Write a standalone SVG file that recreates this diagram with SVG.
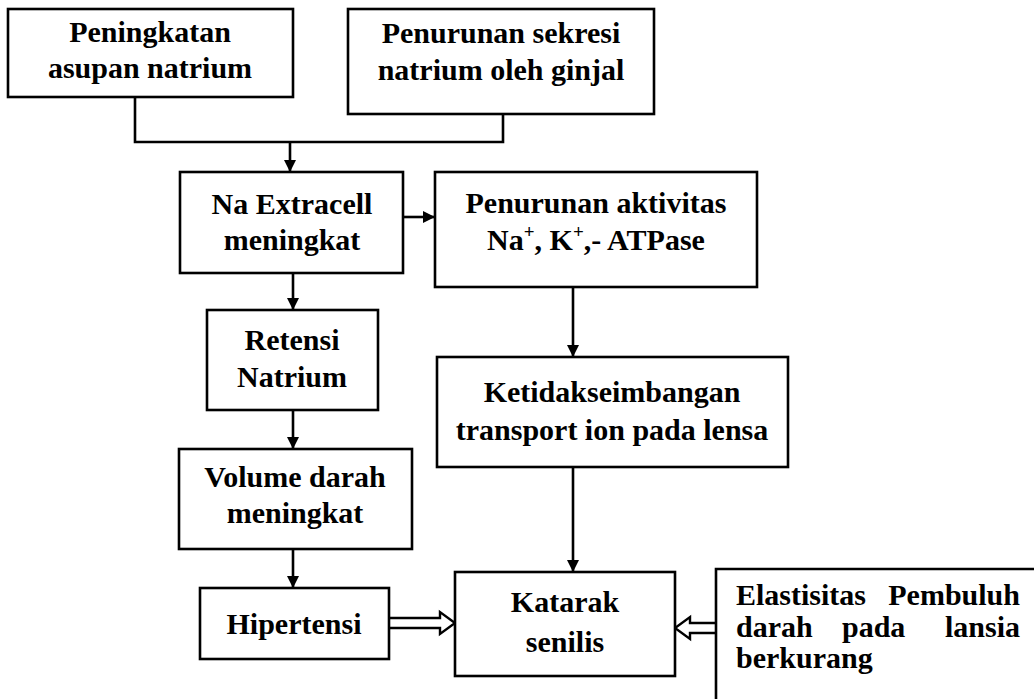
<svg xmlns="http://www.w3.org/2000/svg" width="1034" height="699" viewBox="0 0 1034 699">
<defs>
<style>
.box{fill:#fff;stroke:#000;stroke-width:2.6}
.t{font-family:"Liberation Serif","Times New Roman",serif;font-weight:bold;font-size:30px;fill:#000;text-anchor:middle}
.tl{font-family:"Liberation Serif","Times New Roman",serif;font-weight:bold;font-size:30px;fill:#000}
.ln{fill:none;stroke:#000;stroke-width:2.6}
.hol{fill:#fff;stroke:#000;stroke-width:2.4;stroke-linejoin:miter}
</style>
<marker id="ah" viewBox="0 0 12 12" refX="12" refY="6" markerWidth="12" markerHeight="12" markerUnits="userSpaceOnUse" orient="auto">
<path d="M0,0 L12,6 L0,12 Z" fill="#000"/>
</marker>
</defs>
<rect width="1034" height="699" fill="#fff"/>

<g id="connectors">
<path class="ln" d="M135,97 V142 H503 V114"/>
<line class="ln" x1="290" y1="142" x2="290" y2="172" marker-end="url(#ah)"/>
<line class="ln" x1="403" y1="217" x2="435" y2="217" marker-end="url(#ah)"/>
<line class="ln" x1="573" y1="287" x2="573" y2="357" marker-end="url(#ah)"/>
<line class="ln" x1="573" y1="467" x2="573" y2="572" marker-end="url(#ah)"/>
<line class="ln" x1="293" y1="273" x2="293" y2="310" marker-end="url(#ah)"/>
<line class="ln" x1="293" y1="410" x2="293" y2="449" marker-end="url(#ah)"/>
<line class="ln" x1="293" y1="549" x2="293" y2="588" marker-end="url(#ah)"/>
<path class="hol" d="M389,618 H440 V612 L455,623 L440,634 V628 H389"/>
<path class="hol" d="M716,623 H690 V617 L675,628 L690,639 V633 H716"/>
</g>

<g id="n1">
<rect class="box" x="8" y="9" width="285" height="88"/>
<text class="t" x="150" y="42">Peningkatan</text>
<text class="t" x="150" y="78">asupan natrium</text>
</g>
<g id="n2">
<rect class="box" x="348" y="9" width="306" height="105"/>
<text class="t" x="501" y="43">Penurunan sekresi</text>
<text class="t" x="501" y="80">natrium oleh ginjal</text>
</g>
<g id="n3">
<rect class="box" x="180" y="172" width="223" height="101"/>
<text class="t" x="292" y="214">Na Extracell</text>
<text class="t" x="292" y="250">meningkat</text>
</g>
<g id="n4">
<rect class="box" x="435" y="172" width="322" height="115"/>
<text class="t" x="596" y="213">Penurunan aktivitas</text>
<text class="t" x="596" y="250">Na<tspan font-size="19" dy="-12">+</tspan><tspan dy="12">, K</tspan><tspan font-size="19" dy="-12">+</tspan><tspan dy="12">,- ATPase</tspan></text>
</g>
<g id="n5">
<rect class="box" x="437" y="357" width="351" height="110"/>
<text class="t" x="612" y="402">Ketidakseimbangan</text>
<text class="t" x="612" y="440">transport ion pada lensa</text>
</g>
<g id="n6">
<rect class="box" x="207" y="310" width="171" height="100"/>
<text class="t" x="292" y="350">Retensi</text>
<text class="t" x="292" y="387">Natrium</text>
</g>
<g id="n7">
<rect class="box" x="179" y="449" width="233" height="100"/>
<text class="t" x="295" y="487">Volume darah</text>
<text class="t" x="295" y="523">meningkat</text>
</g>
<g id="n8">
<rect class="box" x="200" y="588" width="189" height="71"/>
<text class="t" x="294" y="634">Hipertensi</text>
</g>
<g id="n9">
<rect class="box" x="455" y="572" width="220" height="104"/>
<text class="t" x="565" y="612">Katarak</text>
<text class="t" x="565" y="652">senilis</text>
</g>
<g id="n10">
<path class="ln" d="M1040,569 H716 V705"/>
<text class="tl" x="736" y="605">Elastisitas</text>
<text class="tl" x="1020" y="605" text-anchor="end">Pembuluh</text>
<text class="tl" x="736" y="637">darah</text>
<text class="tl" x="842" y="637">pada</text>
<text class="tl" x="1020" y="637" text-anchor="end">lansia</text>
<text class="tl" x="736" y="668">berkurang</text>
</g>
</svg>
